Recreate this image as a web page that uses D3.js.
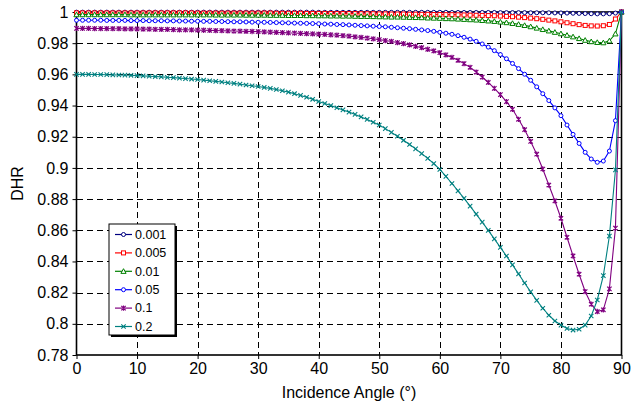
<!DOCTYPE html>
<html>
<head>
<meta charset="utf-8">
<script src="https://cdn.jsdelivr.net/npm/d3@7"></script>
<style>
  body { margin: 0; background: #fff; }
  svg { display: block; }
  text { font-family: Arial, "Liberation Sans", Helvetica, sans-serif; fill: #000; }
</style>
</head>
<body>
<svg id="chart" width="637" height="406"></svg>
<script>
// Incidence angle samples (degrees)
const angles = [
  0,1,2,3,4,5,6,7,8,9,10,11,12,13,14,15,16,17,18,19,20,21,22,23,24,25,26,27,28,29,
  30,31,32,33,34,35,36,37,38,39,40,41,42,43,44,45,46,47,48,49,50,51,52,53,54,55,56,57,58,59,
  60,61,62,63,64,65,66,67,68,69,70,71,72,73,74,75,76,77,78,79,80,81,82,83,84,85,86,87,88,89,90
];

const seriesNames = ["0.001", "0.005", "0.01", "0.05", "0.1", "0.2"];

// DHR for each roughness value
const dhr0001 = [
  0.9999,0.9999,0.9999,0.9999,0.9999,0.9999,0.9999,0.9999,0.9999,0.9999,
  0.9999,0.9999,0.9999,0.9999,0.9999,0.9999,0.9999,0.9999,0.9999,0.9999,
  0.9999,0.9999,0.9999,0.9999,0.9999,0.9999,0.9999,0.9999,0.9999,0.9999,
  0.9999,0.9999,0.9999,0.9999,0.9999,0.9999,0.9999,0.9999,0.9999,0.9999,
  0.9998,0.9998,0.9998,0.9998,0.9998,0.9998,0.9998,0.9998,0.9998,0.9998,
  0.9998,0.9998,0.9998,0.9998,0.9998,0.9998,0.9998,0.9998,0.9998,0.9998,
  0.9998,0.9998,0.9997,0.9997,0.9997,0.9997,0.9997,0.9997,0.9997,0.9997,
  0.9996,0.9996,0.9996,0.9996,0.9996,0.9995,0.9995,0.9995,0.9995,0.9994,
  0.9994,0.9993,0.9992,0.9991,0.9990,0.9989,0.9988,0.9988,0.9989,0.9993,
  1.0000
];
const dhr0005 = [
  0.9994,0.9994,0.9994,0.9994,0.9994,0.9994,0.9994,0.9994,0.9994,0.9994,
  0.9994,0.9994,0.9994,0.9994,0.9994,0.9994,0.9994,0.9994,0.9994,0.9994,
  0.9993,0.9993,0.9993,0.9993,0.9993,0.9993,0.9993,0.9993,0.9993,0.9993,
  0.9993,0.9993,0.9993,0.9992,0.9992,0.9992,0.9992,0.9992,0.9991,0.9991,
  0.9991,0.9991,0.9990,0.9990,0.9990,0.9990,0.9990,0.9989,0.9989,0.9989,
  0.9988,0.9988,0.9987,0.9987,0.9987,0.9986,0.9986,0.9985,0.9985,0.9984,
  0.9984,0.9983,0.9983,0.9982,0.9981,0.9980,0.9979,0.9978,0.9977,0.9976,
  0.9974,0.9972,0.9970,0.9967,0.9964,0.9961,0.9957,0.9953,0.9948,0.9943,
  0.9937,0.9931,0.9925,0.9919,0.9914,0.9911,0.9910,0.9912,0.9920,0.9955,
  1.0000
];
const dhr001 = [
  0.9983,0.9983,0.9983,0.9983,0.9983,0.9983,0.9983,0.9983,0.9983,0.9982,
  0.9982,0.9982,0.9982,0.9982,0.9982,0.9982,0.9982,0.9982,0.9982,0.9982,
  0.9982,0.9982,0.9982,0.9981,0.9981,0.9981,0.9981,0.9981,0.9980,0.9980,
  0.9980,0.9980,0.9979,0.9979,0.9979,0.9978,0.9978,0.9978,0.9977,0.9977,
  0.9976,0.9976,0.9975,0.9975,0.9974,0.9974,0.9973,0.9972,0.9972,0.9971,
  0.9970,0.9969,0.9968,0.9968,0.9967,0.9966,0.9965,0.9964,0.9962,0.9961,
  0.9960,0.9958,0.9957,0.9955,0.9953,0.9951,0.9949,0.9946,0.9943,0.9940,
  0.9936,0.9932,0.9927,0.9921,0.9914,0.9906,0.9897,0.9888,0.9879,0.9870,
  0.9861,0.9851,0.9841,0.9830,0.9819,0.9810,0.9805,0.9803,0.9815,0.9860,
  1.0000
];
const dhr005 = [
  0.9947,0.9947,0.9947,0.9947,0.9947,0.9946,0.9946,0.9946,0.9946,0.9945,
  0.9945,0.9945,0.9944,0.9944,0.9944,0.9943,0.9943,0.9942,0.9942,0.9941,
  0.9941,0.9940,0.9940,0.9939,0.9939,0.9938,0.9937,0.9937,0.9936,0.9935,
  0.9934,0.9934,0.9933,0.9932,0.9931,0.9930,0.9929,0.9928,0.9927,0.9926,
  0.9925,0.9923,0.9922,0.9920,0.9919,0.9917,0.9915,0.9913,0.9911,0.9909,
  0.9907,0.9905,0.9902,0.9899,0.9896,0.9893,0.9889,0.9885,0.9881,0.9876,
  0.9870,0.9864,0.9857,0.9848,0.9838,0.9826,0.9812,0.9795,0.9775,0.9752,
  0.9727,0.9700,0.9670,0.9637,0.9601,0.9562,0.9520,0.9476,0.9432,0.9385,
  0.9335,0.9275,0.9215,0.9157,0.9100,0.9057,0.9036,0.9044,0.9108,0.9303,
  1.0000
];
const dhr01 = [
  0.9895,0.9895,0.9895,0.9894,0.9894,0.9894,0.9893,0.9893,0.9892,0.9892,
  0.9891,0.9890,0.9890,0.9889,0.9888,0.9888,0.9887,0.9886,0.9886,0.9885,
  0.9884,0.9883,0.9882,0.9881,0.9880,0.9879,0.9878,0.9877,0.9876,0.9875,
  0.9874,0.9872,0.9871,0.9869,0.9868,0.9866,0.9865,0.9863,0.9861,0.9860,
  0.9858,0.9856,0.9854,0.9851,0.9848,0.9845,0.9841,0.9837,0.9833,0.9828,
  0.9823,0.9817,0.9811,0.9804,0.9797,0.9789,0.9780,0.9771,0.9761,0.9750,
  0.9739,0.9725,0.9709,0.9690,0.9669,0.9645,0.9615,0.9583,0.9548,0.9510,
  0.9470,0.9425,0.9376,0.9312,0.9245,0.9170,0.9088,0.8993,0.8890,0.8788,
  0.8677,0.8555,0.8435,0.8318,0.8207,0.8126,0.8079,0.8090,0.8224,0.8614,
  1.0000
];
const dhr02 = [
  0.9600,0.9600,0.9600,0.9599,0.9599,0.9598,0.9597,0.9596,0.9595,0.9594,
  0.9592,0.9590,0.9588,0.9586,0.9584,0.9581,0.9579,0.9576,0.9573,0.9570,
  0.9567,0.9563,0.9559,0.9555,0.9551,0.9546,0.9542,0.9537,0.9532,0.9527,
  0.9522,0.9516,0.9510,0.9503,0.9495,0.9486,0.9476,0.9465,0.9453,0.9440,
  0.9426,0.9413,0.9400,0.9386,0.9372,0.9358,0.9343,0.9327,0.9311,0.9293,
  0.9275,0.9252,0.9228,0.9203,0.9177,0.9150,0.9122,0.9092,0.9061,0.9028,
  0.8990,0.8946,0.8900,0.8853,0.8805,0.8755,0.8704,0.8652,0.8599,0.8545,
  0.8490,0.8435,0.8378,0.8320,0.8262,0.8205,0.8150,0.8100,0.8055,0.8018,
  0.7992,0.7970,0.7960,0.7965,0.7992,0.8050,0.8153,0.8309,0.8563,0.8987,
  1.0000
];

const xTicks = [0, 10, 20, 30, 40, 50, 60, 70, 80, 90];
const yTicks = [0.78, 0.8, 0.82, 0.84, 0.86, 0.88, 0.9, 0.92, 0.94, 0.96, 0.98, 1];
const yTickLabels = ["0.78", "0.8", "0.82", "0.84", "0.86", "0.88", "0.9", "0.92", "0.94", "0.96", "0.98", "1"];

const seriesValues = [dhr0001, dhr0005, dhr001, dhr005, dhr01, dhr02];
const seriesColors = ["#000080", "#FF0000", "#008000", "#0000FF", "#800080", "#008080"];
const seriesMarkers = ["circle", "square", "triangle", "circle", "star", "cross"];

const svg = d3.select("#chart");
const plot = { left: 76.5, right: 621.5, top: 12, bottom: 355 };

const x = d3.scaleLinear().domain([0, 90]).range([plot.left, plot.right]);
const y = d3.scaleLinear().domain([0.78, 1]).range([plot.bottom, plot.top]);

// Dashed grid
const grid = svg.append("g").attr("stroke", "#000").attr("stroke-width", 1)
  .attr("stroke-dasharray", "6,4").attr("shape-rendering", "crispEdges");
grid.selectAll("line.h").data(yTicks.slice(1, -1)).enter().append("line")
  .attr("x1", plot.left).attr("x2", plot.right)
  .attr("y1", d => Math.round(y(d)) + 0.5).attr("y2", d => Math.round(y(d)) + 0.5);
grid.selectAll("line.v").data(xTicks.slice(1, -1)).enter().append("line")
  .attr("y1", plot.top).attr("y2", plot.bottom)
  .attr("x1", d => Math.round(x(d)) + 0.5).attr("x2", d => Math.round(x(d)) + 0.5);

// Axes
const yAxis = d3.axisLeft(y).tickValues(yTicks)
  .tickFormat((d, i) => yTickLabels[i]).tickSizeInner(4).tickSizeOuter(0).tickPadding(4);
const xAxis = d3.axisBottom(x).tickValues(xTicks)
  .tickFormat(d => String(d)).tickSizeInner(4).tickSizeOuter(0).tickPadding(4);

const gy = svg.append("g").attr("transform", `translate(${plot.left},0)`).call(yAxis);
const gx = svg.append("g").attr("transform", `translate(0,${plot.bottom})`).call(xAxis);
[gx, gy].forEach(g => {
  g.select(".domain").remove();
  g.selectAll("text").attr("font-size", 16).attr("fill", "#000")
    .attr("font-family", "Arial, 'Liberation Sans', sans-serif");
  g.selectAll(".tick line").attr("stroke", "#000");
});

// Plot frame
svg.append("rect")
  .attr("x", plot.left).attr("y", plot.top)
  .attr("width", plot.right - plot.left).attr("height", plot.bottom - plot.top)
  .attr("fill", "none").attr("stroke", "#000").attr("stroke-width", 1.6);

// Marker drawing helper
function drawMarker(sel, type, color, s) {
  if (type === "circle") {
    sel.append("circle").attr("r", s * 0.5).attr("fill", "#fff").attr("stroke", color).attr("stroke-width", 1);
  } else if (type === "square") {
    sel.append("rect").attr("x", -s * 0.5).attr("y", -s * 0.5).attr("width", s).attr("height", s)
      .attr("fill", "#fff").attr("stroke", color).attr("stroke-width", 1);
  } else if (type === "triangle") {
    const h = s * 0.65;
    sel.append("path").attr("d", `M0,${-h}L${h},${h * 0.8}L${-h},${h * 0.8}Z`)
      .attr("fill", "#fff").attr("stroke", color).attr("stroke-width", 1);
  } else if (type === "star") {
    const r = s * 0.55;
    sel.append("path").attr("d", `M${-r},${-r}L${r},${r}M${-r},${r}L${r},${-r}M0,${-r * 1.2}L0,${r * 1.2}`)
      .attr("stroke", color).attr("stroke-width", 1.2).attr("fill", "none");
  } else if (type === "cross") {
    const r = s * 0.55;
    sel.append("path").attr("d", `M${-r},${-r}L${r},${r}M${-r},${r}L${r},${-r}`)
      .attr("stroke", color).attr("stroke-width", 1.1).attr("fill", "none");
  }
}

// Series lines and markers
const line = d3.line().x((d, i) => x(angles[i])).y(d => y(d));
seriesValues.forEach((vals, k) => {
  const g = svg.append("g");
  g.append("path").datum(vals).attr("d", line)
    .attr("fill", "none").attr("stroke", seriesColors[k]).attr("stroke-width", 1.1);
  g.selectAll("g.m").data(vals).enter().append("g")
    .attr("transform", (d, i) => `translate(${x(angles[i])},${y(d)})`)
    .each(function () { drawMarker(d3.select(this), seriesMarkers[k], seriesColors[k], 4); });
});

// Legend
const lg = { x: 109, y: 224, w: 66, h: 111, row: 18.4 };
svg.append("rect").attr("x", lg.x + 2).attr("y", lg.y + 2).attr("width", lg.w).attr("height", lg.h).attr("fill", "#000");
svg.append("rect").attr("x", lg.x).attr("y", lg.y).attr("width", lg.w).attr("height", lg.h)
  .attr("fill", "#fff").attr("stroke", "#000").attr("stroke-width", 1);
seriesNames.forEach((name, k) => {
  const cy = lg.y + 10.5 + k * lg.row;
  const g = svg.append("g");
  g.append("line").attr("x1", lg.x + 6).attr("x2", lg.x + 23).attr("y1", cy).attr("y2", cy)
    .attr("stroke", seriesColors[k]).attr("stroke-width", 1.2);
  const m = g.append("g").attr("transform", `translate(${lg.x + 14.5},${cy})`);
  drawMarker(m, seriesMarkers[k], seriesColors[k], 4);
  g.append("text").attr("x", lg.x + 26).attr("y", cy).attr("dy", "0.35em")
    .attr("font-size", 12.5).text(name);
});

// Axis titles
svg.append("text").attr("x", (plot.left + plot.right) / 2).attr("y", 398)
  .attr("text-anchor", "middle").attr("font-size", 16).text("Incidence Angle (°)");
svg.append("text").attr("transform", `translate(23,${(plot.top + plot.bottom) / 2}) rotate(-90)`)
  .attr("text-anchor", "middle").attr("font-size", 16).text("DHR");
</script>
</body>
</html>
